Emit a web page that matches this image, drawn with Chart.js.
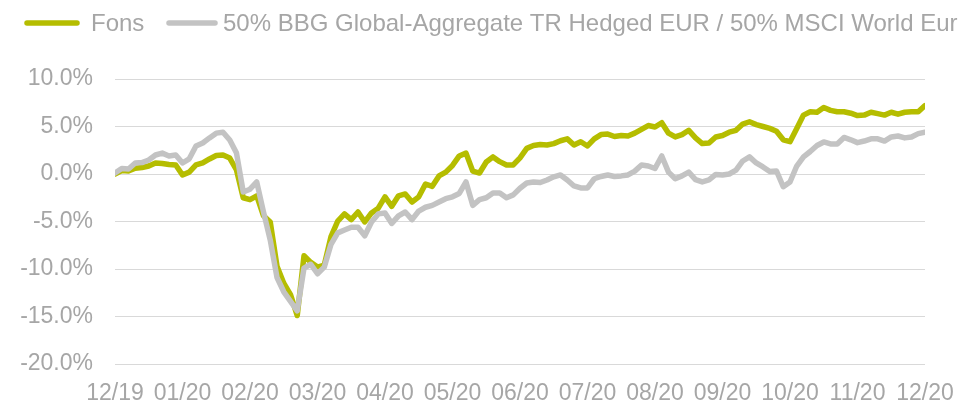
<!DOCTYPE html>
<html lang="en">
<head>
    <meta charset="UTF-8">
    <title>Fons vs benchmark</title>
    <script src="https://cdn.jsdelivr.net/npm/chart.js"></script>
    <style>
        body {
            margin: 0;
            background: #ffffff;
        }
        .wrap {
            width: 962px;
            height: 403px;
        }
    </style>
</head>
<body>
    <div class="wrap">
        <canvas id="perfChart"></canvas>
    </div>

    <script>
        // Month labels at the x-axis ticks (month ends)
        const monthLabels = ['12/19', '01/20', '02/20', '03/20', '04/20', '05/20', '06/20',
                             '07/20', '08/20', '09/20', '10/20', '11/20', '12/20'];

        // Readings per month (10 per month)
        const pointsPerMonth = 10;

        const fonsLabel = 'Fons';
        const benchLabel = '50% BBG Global-Aggregate TR Hedged EUR / 50% MSCI World Eur';

        // Fons, cumulative return in %
        const fons = [
            0.0, 0.37, 0.32, 0.6, 0.68, 0.84, 1.16, 1.1, 1.0, 0.95,
            -0.1, 0.2, 0.95, 1.16, 1.58, 1.95, 2.0, 1.68, 0.42, -2.5,
            -2.7, -2.3, -4.4, -5.05, -9.7, -11.5, -12.7, -14.9, -8.6, -9.3,
            -9.8, -9.6, -6.6, -4.95, -4.2, -4.8, -4.0, -5.05, -4.1, -3.6,
            -2.4, -3.4, -2.3, -2.1, -2.95, -2.4, -1.05, -1.3, -0.2, 0.2,
            0.9, 1.9, 2.2, 0.3, 0.1, 1.26, 1.8, 1.3, 0.95, 0.95,
            1.7, 2.7, 3.0, 3.1, 3.05, 3.2, 3.5, 3.7, 3.05, 3.4,
            2.95, 3.7, 4.15, 4.2, 3.95, 4.05, 4.0, 4.3, 4.7, 5.1,
            4.95, 5.4, 4.3, 3.9, 4.15, 4.6, 3.8, 3.2, 3.26, 3.9,
            4.05, 4.4, 4.6, 5.26, 5.5, 5.2, 5.0, 4.8, 4.5, 3.6,
            3.4, 4.8, 6.2, 6.55, 6.5, 7.0, 6.7, 6.55, 6.55, 6.4,
            6.15, 6.2, 6.5, 6.35, 6.2, 6.5, 6.3, 6.5, 6.55, 6.55,
            7.2
        ];

        // Benchmark, cumulative return in %
        const bench = [
            0.1, 0.58, 0.53, 1.16, 1.2, 1.47, 2.0, 2.2, 1.9, 2.0,
            1.16, 1.6, 2.95, 3.26, 3.8, 4.3, 4.4, 3.58, 2.2, -1.9,
            -1.6, -0.84, -4.0, -6.95, -10.9, -12.4, -13.4, -14.4, -9.9, -9.5,
            -10.5, -9.8, -7.4, -6.2, -5.9, -5.6, -5.6, -6.5, -5.05, -4.2,
            -4.1, -5.2, -4.4, -4.0, -4.8, -3.9, -3.5, -3.3, -2.95, -2.6,
            -2.4, -2.05, -0.84, -3.3, -2.7, -2.5, -2.0, -2.0, -2.5, -2.2,
            -1.5, -0.95, -0.84, -0.9, -0.63, -0.3, -0.1, -0.63, -1.26, -1.47,
            -1.47, -0.5, -0.26, -0.1, -0.26, -0.2, -0.1, 0.3, 0.95, 0.84,
            0.58, 1.9, 0.2, -0.5, -0.2, 0.2, -0.6, -0.84, -0.63, -0.05,
            -0.1, 0.0, 0.4, 1.37, 1.8, 1.16, 0.74, 0.26, 0.32, -1.34,
            -0.84, 0.84, 1.8, 2.37, 3.0, 3.37, 3.16, 3.16, 3.85, 3.6,
            3.3, 3.47, 3.7, 3.7, 3.47, 3.9, 4.0, 3.8, 3.9, 4.25,
            4.4
        ];

        const fontFamily = '"Liberation Sans", Arial, sans-serif';
        const textColor = '#a6a6a6';
        const fonsColor = '#b5bd00';
        const benchColor = '#c3c3c3';

        function toPoints(values) {
            return values.map((v, i) => ({ x: i / pointsPerMonth, y: v }));
        }

        // Legend drawn by hand so the long label stays on one line (clipped at the edge)
        const lineLegend = {
            id: 'lineLegend',
            afterDraw(chart) {
                const ctx = chart.ctx;
                const items = [
                    { label: fonsLabel, color: fonsColor, x0: 27, x1: 77, gap: 14 },
                    { label: benchLabel, color: benchColor, x0: 169, x1: 215, gap: 8 }
                ];
                ctx.save();
                ctx.font = '24px ' + fontFamily;
                ctx.textBaseline = 'middle';
                ctx.fillStyle = textColor;
                items.forEach(item => {
                    ctx.beginPath();
                    ctx.lineCap = 'round';
                    ctx.lineWidth = 5.5;
                    ctx.strokeStyle = item.color;
                    ctx.moveTo(item.x0, 23);
                    ctx.lineTo(item.x1, 23);
                    ctx.stroke();
                    ctx.fillText(item.label, item.x1 + item.gap, 24);
                });
                ctx.restore();
            }
        };

        const ctx = document.getElementById('perfChart').getContext('2d');
        new Chart(ctx, {
            type: 'line',
            data: {
                datasets: [
                    {
                        label: fonsLabel,
                        data: toPoints(fons),
                        borderColor: fonsColor,
                        backgroundColor: fonsColor,
                        borderWidth: 5.5,
                        pointRadius: 0,
                        tension: 0,
                        borderJoinStyle: 'round',
                        borderCapStyle: 'round',
                        order: 1
                    },
                    {
                        label: benchLabel,
                        data: toPoints(bench),
                        borderColor: benchColor,
                        backgroundColor: benchColor,
                        borderWidth: 5.5,
                        pointRadius: 0,
                        tension: 0,
                        borderJoinStyle: 'round',
                        borderCapStyle: 'round',
                        order: 0
                    }
                ]
            },
            options: {
                responsive: true,
                maintainAspectRatio: false,
                animation: false,
                layout: {
                    padding: { top: 79, right: 37, left: 0, bottom: 0 }
                },
                plugins: {
                    legend: { display: false },
                    tooltip: { enabled: false }
                },
                scales: {
                    x: {
                        type: 'linear',
                        min: 0,
                        max: 12,
                        grid: { display: false },
                        border: { display: false },
                        ticks: {
                            stepSize: 1,
                            autoSkip: false,
                            maxRotation: 0,
                            padding: 8,
                            color: textColor,
                            font: { family: fontFamily, size: 23 },
                            callback: (v) => monthLabels[v]
                        },
                        afterFit: (scale) => { scale.height = 39; }
                    },
                    y: {
                        min: -20,
                        max: 10,
                        grid: { color: '#d9d9d9', lineWidth: 1, drawTicks: false },
                        border: { display: false },
                        ticks: {
                            stepSize: 5,
                            padding: 22,
                            color: textColor,
                            font: { family: fontFamily, size: 23 },
                            callback: (v) => v.toFixed(1) + '%'
                        },
                        afterFit: (scale) => { scale.width = 115; }
                    }
                }
            },
            plugins: [lineLegend]
        });
    </script>
</body>
</html>
